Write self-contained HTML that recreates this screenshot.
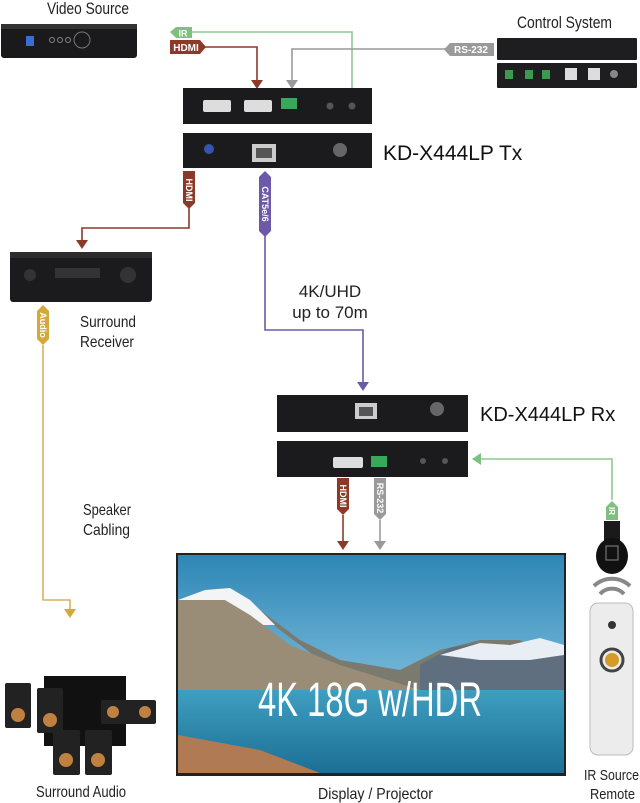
<!DOCTYPE html>
<html><head><meta charset="utf-8"><style>
html,body{margin:0;padding:0;background:#fff;}
svg{display:block;font-family:"Liberation Sans",sans-serif;}
.n{font-family:"Liberation Sans",sans-serif;font-size:16px;fill:#222;}
.w{font-family:"Liberation Sans",sans-serif;font-size:17px;fill:#222;}
</style></head><body>
<svg width="640" height="803" viewBox="0 0 640 803" xmlns="http://www.w3.org/2000/svg">
<defs>
<linearGradient id="sky" x1="0" y1="0" x2="0" y2="1">
<stop offset="0" stop-color="#2f86b5"/><stop offset="0.5" stop-color="#6bb1d4"/><stop offset="1" stop-color="#8cc6de"/></linearGradient>
<linearGradient id="lake" x1="0" y1="0" x2="0" y2="1">
<stop offset="0" stop-color="#3f9fc0"/><stop offset="1" stop-color="#1c6f95"/></linearGradient>
</defs>

<!-- Video Source -->
<text x="47" y="14" class="n" style="font-size:17px" textLength="82" lengthAdjust="spacingAndGlyphs">Video Source</text>
<rect x="1" y="24" width="136" height="34" rx="3" fill="#1a1a1c"/>
<rect x="1" y="24" width="136" height="5" fill="#333"/>
<rect x="26" y="36" width="8" height="10" fill="#3a6fd0"/>
<circle cx="82" cy="40" r="8" fill="none" stroke="#777"/>
<circle cx="52" cy="40" r="2.5" fill="none" stroke="#888"/><circle cx="60" cy="40" r="2.5" fill="none" stroke="#888"/><circle cx="68" cy="40" r="2.5" fill="none" stroke="#888"/>

<!-- IR line from source -->
<polyline points="192,32 352,32 352,88" fill="none" stroke="#8fc98f" stroke-width="1.6"/>
<polygon points="170,32 176,27 192,27 192,38 176,38" fill="#7fbf7f"/>
<text x="183" y="36.5" font-size="9" font-weight="bold" fill="#fff" text-anchor="middle">IR</text>
<!-- HDMI line -->
<polyline points="205,47 257,47 257,82" fill="none" stroke="#8b3a2a" stroke-width="1.6"/>
<polygon points="251,80 263,80 257,89" fill="#8b3a2a"/>
<polygon points="170,40 200,40 206,47 200,54 170,54" fill="#8b3a2a"/>
<text x="186" y="51" font-size="10" font-weight="bold" fill="#fff" text-anchor="middle">HDMI</text>
<!-- RS-232 line -->
<polyline points="450,49 292,49 292,82" fill="none" stroke="#999" stroke-width="1.6"/>
<polygon points="286,80 298,80 292,89" fill="#999"/>
<polygon points="450,43 494,43 494,56 450,56 444,49.5" fill="#9a9a9a"/>
<text x="471" y="53" font-size="10" font-weight="bold" fill="#fff" text-anchor="middle">RS-232</text>

<!-- Control System -->
<text x="517" y="28" class="n" style="font-size:17px" textLength="95" lengthAdjust="spacingAndGlyphs">Control System</text>
<rect x="497" y="38" width="140" height="22" rx="1" fill="#1e1e20"/>
<rect x="497" y="63" width="140" height="25" rx="1" fill="#1e1e20"/>
<rect x="505" y="70" width="8" height="9" fill="#3a9a50"/><rect x="525" y="70" width="8" height="9" fill="#3a9a50"/><rect x="542" y="70" width="8" height="9" fill="#3a9a50"/>
<rect x="565" y="68" width="12" height="12" fill="#ddd"/><rect x="588" y="68" width="12" height="12" fill="#ddd"/>
<circle cx="614" cy="74" r="4" fill="#888"/>

<!-- Tx top -->
<rect x="183" y="88" width="189" height="36" fill="#1b1b1d"/>
<rect x="203" y="100" width="28" height="12" rx="2" fill="#ddd"/><rect x="244" y="100" width="28" height="12" rx="2" fill="#ddd"/>
<rect x="281" y="98" width="16" height="11" fill="#3aa85a"/>
<circle cx="330" cy="106" r="3.5" fill="#555"/><circle cx="352" cy="106" r="3.5" fill="#555"/>
<!-- Tx bottom -->
<rect x="183" y="133" width="189" height="35" fill="#1b1b1d"/>
<circle cx="209" cy="149" r="5" fill="#3355aa"/>
<rect x="252" y="144" width="24" height="18" fill="#ccc"/><rect x="256" y="148" width="16" height="10" fill="#555"/>
<circle cx="340" cy="150" r="7" fill="#666"/>
<text x="383" y="160" font-size="21" fill="#111">KD-X444LP Tx</text>

<!-- HDMI down to receiver -->
<polyline points="189,205 189,228 82,228 82,242" fill="none" stroke="#8b3a2a" stroke-width="1.6"/>
<polygon points="76,240 88,240 82,249" fill="#8b3a2a"/>
<polygon points="183,171 195,171 195,203 189,209 183,203" fill="#8b3a2a"/>
<text transform="translate(186,190) rotate(90)" font-size="9" font-weight="bold" fill="#fff" text-anchor="middle">HDMI</text>

<!-- CAT line -->
<polyline points="265,235 265,330 363,330 363,383" fill="none" stroke="#6c5aa8" stroke-width="1.6"/>
<polygon points="357,382 369,382 363,391" fill="#6c5aa8"/>
<polygon points="259,177 265,171 271,177 271,231 265,237 259,231" fill="#6c5aa8"/>
<text transform="translate(262,204) rotate(90)" font-size="9" font-weight="bold" fill="#fff" text-anchor="middle">CAT5e/6</text>
<text x="330" y="297" text-anchor="middle" class="w">4K/UHD</text>
<text x="330" y="318" text-anchor="middle" class="w">up to 70m</text>

<!-- Receiver -->
<rect x="10" y="252" width="142" height="50" rx="3" fill="#1b1b1d"/>
<rect x="10" y="252" width="142" height="6" fill="#2c2c2e"/>
<rect x="55" y="268" width="45" height="10" fill="#333"/>
<circle cx="30" cy="275" r="6" fill="#333"/><circle cx="128" cy="275" r="8" fill="#333"/>
<text x="80" y="327" class="n" textLength="56" lengthAdjust="spacingAndGlyphs">Surround</text>
<text x="80" y="347" class="n" textLength="54" lengthAdjust="spacingAndGlyphs">Receiver</text>

<!-- Audio -->
<polyline points="43,345 43,600 70,600 70,610" fill="none" stroke="#d6b45a" stroke-width="1.6"/>
<polygon points="64,609 76,609 70,618" fill="#d6a83c"/>
<polygon points="37,311 43,305 49,311 49,339 43,345 37,339" fill="#d6a83c"/>
<text transform="translate(40,325) rotate(90)" font-size="9" font-weight="bold" fill="#fff" text-anchor="middle">Audio</text>
<text x="83" y="515" class="n" textLength="48" lengthAdjust="spacingAndGlyphs">Speaker</text>
<text x="83" y="535" class="n" textLength="47" lengthAdjust="spacingAndGlyphs">Cabling</text>

<!-- Speakers -->
<rect x="44" y="676" width="82" height="70" fill="#111"/>
<rect x="5" y="683" width="26" height="45" rx="2" fill="#222"/><circle cx="18" cy="715" r="7" fill="#c08040"/>
<rect x="37" y="688" width="26" height="45" rx="2" fill="#222"/><circle cx="50" cy="720" r="7" fill="#c08040"/>
<rect x="101" y="700" width="55" height="24" rx="2" fill="#222"/><circle cx="113" cy="712" r="6" fill="#c08040"/><circle cx="145" cy="712" r="6" fill="#c08040"/>
<rect x="53" y="730" width="27" height="45" rx="2" fill="#222"/><circle cx="66" cy="760" r="7" fill="#c08040"/>
<rect x="85" y="730" width="27" height="45" rx="2" fill="#222"/><circle cx="98" cy="760" r="7" fill="#c08040"/>
<text x="36" y="797" class="n" textLength="90" lengthAdjust="spacingAndGlyphs">Surround Audio</text>

<!-- Rx top -->
<rect x="277" y="395" width="191" height="37" fill="#1b1b1d"/>
<rect x="355" y="403" width="22" height="16" fill="#ccc"/><rect x="359" y="407" width="14" height="9" fill="#555"/>
<circle cx="437" cy="409" r="7" fill="#666"/>
<text x="480" y="421" font-size="20" fill="#111">KD-X444LP Rx</text>
<!-- Rx bottom -->
<rect x="277" y="441" width="191" height="36" fill="#1b1b1d"/>
<rect x="333" y="457" width="30" height="11" rx="2" fill="#ddd"/>
<rect x="371" y="456" width="16" height="11" fill="#3aa85a"/>
<circle cx="423" cy="461" r="3" fill="#555"/><circle cx="445" cy="461" r="3" fill="#555"/>

<!-- HDMI/RS232 to TV -->
<line x1="343" y1="515" x2="343" y2="542" stroke="#8b3a2a" stroke-width="1.6"/>
<polygon points="337,541 349,541 343,550" fill="#8b3a2a"/>
<polygon points="337,478 349,478 349,509 343,515 337,509" fill="#8b3a2a"/>
<text transform="translate(340,496) rotate(90)" font-size="9" font-weight="bold" fill="#fff" text-anchor="middle">HDMI</text>
<line x1="380" y1="520" x2="380" y2="542" stroke="#999" stroke-width="1.6"/>
<polygon points="374,541 386,541 380,550" fill="#999"/>
<polygon points="374,478 386,478 386,514 380,520 374,514" fill="#9a9a9a"/>
<text transform="translate(377,498) rotate(90)" font-size="9" font-weight="bold" fill="#fff" text-anchor="middle">RS-232</text>

<!-- IR back -->
<polyline points="612,500 612,459 480,459" fill="none" stroke="#8fc98f" stroke-width="1.6"/>
<polygon points="481,453 481,465 472,459" fill="#7fbf7f"/>
<polygon points="606,507 612,501 618,507 618,520 606,520" fill="#7fbf7f"/>
<text transform="translate(609,511) rotate(90)" font-size="8" font-weight="bold" fill="#fff" text-anchor="middle">IR</text>
<rect x="604" y="521" width="16" height="20" fill="#1a1a1a"/>
<ellipse cx="612" cy="556" rx="16" ry="18" fill="#111"/>
<rect x="606" y="546" width="12" height="14" fill="none" stroke="#888"/>
<path d="M594,586 A26,26 0 0 1 630,586" fill="none" stroke="#888" stroke-width="4"/>
<path d="M600,594 A16,16 0 0 1 624,594" fill="none" stroke="#888" stroke-width="4"/>
<rect x="590" y="603" width="43" height="152" rx="8" fill="#ececec" stroke="#bbb"/>
<circle cx="612" cy="660" r="7" fill="#d49b2a"/><circle cx="612" cy="660" r="11" fill="none" stroke="#444" stroke-width="3"/>
<circle cx="612" cy="625" r="4" fill="#333"/>
<text x="584" y="780" class="n" style="font-size:15px" textLength="55" lengthAdjust="spacingAndGlyphs">IR Source</text>
<text x="590" y="799" class="n" style="font-size:15px" textLength="45" lengthAdjust="spacingAndGlyphs">Remote</text>

<!-- TV -->
<rect x="176" y="553" width="390" height="223" fill="#222"/>
<rect x="178" y="555" width="386" height="218" fill="url(#sky)"/>
<polygon points="178,600 205,590 230,588 250,605 280,630 320,660 360,680 420,690 564,690 564,668 520,640 480,640 440,650 400,670 340,660 300,640 260,610 230,592 200,595 178,605" fill="#7a7a6e"/>
<polygon points="178,600 205,590 230,588 250,600 275,625 260,625 230,608 200,606 178,615" fill="#f2f4f6"/>
<polygon points="178,600 178,690 420,690 340,665 290,645 250,615 225,600 200,600" fill="#9a8d78"/>
<polygon points="420,665 450,648 480,643 510,645 540,640 564,645 564,690 420,690" fill="#5f6f80"/>
<polygon points="440,655 480,643 510,645 540,638 564,645 564,655 530,660 480,660" fill="#e8eef3"/>
<rect x="178" y="690" width="386" height="83" fill="url(#lake)"/>
<polygon points="178,735 260,750 320,773 178,773" fill="#b07a55"/>
<text x="258" y="716" font-family="'Liberation Sans',sans-serif" font-size="48" fill="#fff" textLength="224" lengthAdjust="spacingAndGlyphs">4K 18G w/HDR</text>
<text x="318" y="799" class="n" textLength="115" lengthAdjust="spacingAndGlyphs">Display / Projector</text>
</svg>
</body></html>
